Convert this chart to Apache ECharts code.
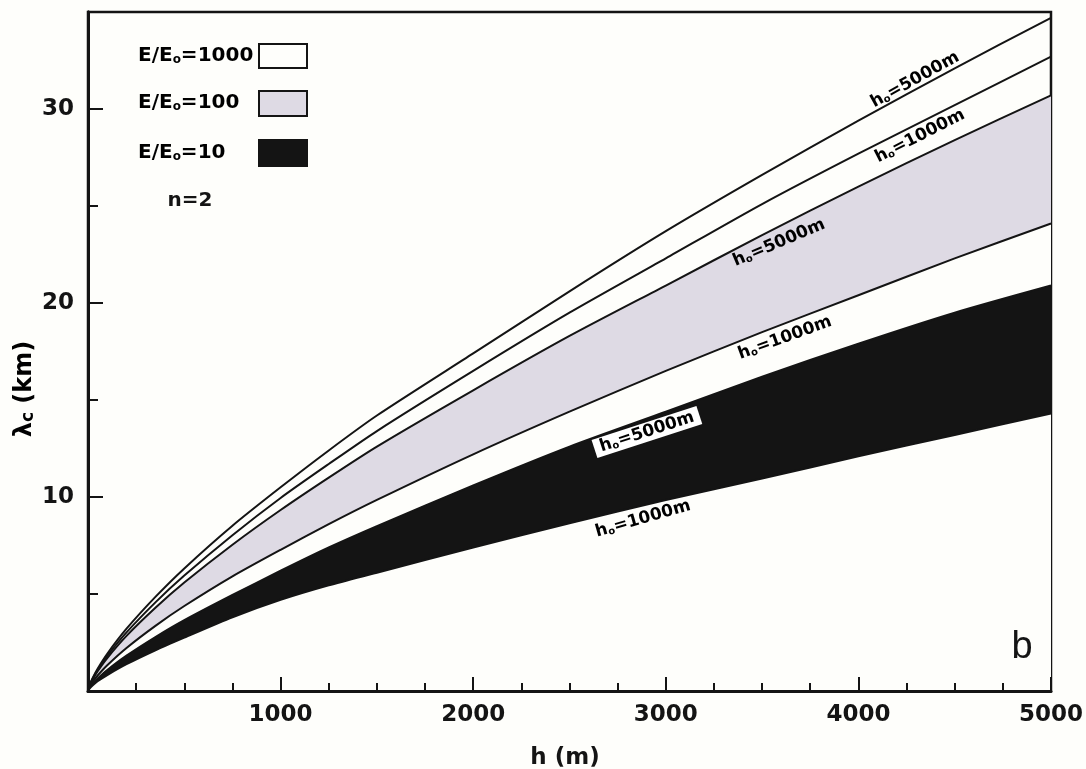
<!DOCTYPE html>
<html>
<head>
<meta charset="utf-8">
<script src="https://cdn.jsdelivr.net/npm/echarts@6/dist/echarts.min.js"></script>
<style>
  html, body { margin: 0; padding: 0; background: #fefefb; }
  #chart { width: 1086px; height: 769px; }
</style>
</head>
<body>
<div id="chart"></div>
<script>
// Altitude h (m) at which each curve is sampled
const heights = [0, 10, 25, 50, 100, 200, 350, 500, 750, 1000, 1250, 1500, 2000, 2500, 3000, 3500, 4000, 4500, 5000];

// Critical wavelength λc (km), n = 2
const e1000_h5000 = [0, 0.35, 0.69, 1.15, 1.92, 3.21, 4.85, 6.32, 8.52, 10.5, 12.4, 14.2, 17.4, 20.6, 23.7, 26.6, 29.4, 32.1, 34.7];
const e1000_h1000 = [0, 0.33, 0.65, 1.08, 1.81, 3.02, 4.57, 5.95, 8.03, 9.95, 11.7, 13.4, 16.5, 19.5, 22.3, 25.1, 27.7, 30.2, 32.7];
const e100_h5000  = [0, 0.31, 0.61, 1.02, 1.70, 2.84, 4.29, 5.59, 7.54, 9.33, 11.0, 12.6, 15.5, 18.3, 20.9, 23.5, 26.0, 28.4, 30.7];
const e100_h1000  = [0, 0.24, 0.48, 0.80, 1.33, 2.22, 3.36, 4.38, 5.91, 7.28, 8.6, 9.85, 12.2, 14.4, 16.5, 18.5, 20.4, 22.3, 24.1];
const e10_h5000   = [0, 0.19, 0.38, 0.64, 1.08, 1.82, 2.78, 3.65, 4.95, 6.2, 7.4, 8.5, 10.6, 12.6, 14.4, 16.2, 17.9, 19.5, 20.9];
const e10_h1000   = [0, 0.15, 0.3, 0.5, 0.82, 1.38, 2.1, 2.75, 3.8, 4.7, 5.45, 6.1, 7.4, 8.65, 9.85, 10.95, 12.1, 13.2, 14.3];

// Axis tick labels
const xTickLabels = [1000, 2000, 3000, 4000, 5000];
const yTickLabels = [10, 20, 30];

// Curve annotations: text, anchor (h, λc) and slope angle
const curveLabelText = ['5000m', '1000m', '5000m', '1000m', '5000m', '1000m'];
const curveLabelH    = [4294, 4320, 3588, 3619, 2902, 2882];
const curveLabelLam  = [31.5, 28.6, 23.1, 18.2, 13.35, 8.87];
const curveLabelDeg  = [29, 27, 23, 20, 18, 16];

// Legend entries
const legendText = ['1000', '100', '10'];

const INK = '#141414';
const GRAY = '#dedae4';
const PAPER = '#fefefb';
const FONT = 'DejaVu Sans';
const SMOOTH = 0.25;

const pairs = arr => heights.map((h, i) => [h, arr[i]]);

function curve(name, arr) {
  return {
    name, type: 'line', data: pairs(arr), symbol: 'none', smooth: SMOOTH, z: 6,
    lineStyle: { color: INK, width: 2 }, silent: true
  };
}
// Filled region under a curve; later fills paint over earlier ones, leaving bands
function fill(arr, color, z) {
  return {
    type: 'line', data: pairs(arr), symbol: 'none', smooth: SMOOTH, z,
    lineStyle: { opacity: 0, width: 0 }, areaStyle: { color, opacity: 1, origin: 'start' }, silent: true
  };
}

const chart = echarts.init(document.getElementById('chart'), null, { renderer: 'canvas' });

const tickFont = { fontFamily: FONT, fontWeight: 'bold', fontSize: 23, color: INK };

chart.setOption({
  backgroundColor: PAPER,
  animation: false,
  grid: { left: 88, right: 35, top: 12, bottom: 78, show: true, borderColor: INK, borderWidth: 2.5, backgroundColor: 'transparent' },
  xAxis: {
    type: 'value', min: 0, max: 5000, interval: 1000, z: 10,
    axisLine: { lineStyle: { color: INK, width: 3 } },
    axisTick: { inside: true, length: 14, lineStyle: { color: INK, width: 2 } },
    minorTick: { show: true, splitNumber: 4, length: 8, lineStyle: { color: INK, width: 2 } },
    splitLine: { show: false },
    axisLabel: Object.assign({ margin: 13, formatter: v => xTickLabels.includes(v) ? String(v) : '' }, tickFont)
  },
  yAxis: [
    {
      type: 'value', min: 0, max: 35, interval: 5, position: 'left', z: 10,
      axisLine: { show: true, lineStyle: { color: INK, width: 3 } },
      axisTick: { show: true, inside: true, length: 10, lineStyle: { color: INK, width: 2 } },
      splitLine: { show: false },
      axisLabel: { show: false }
    },
    {
      type: 'value', min: 0, max: 35, interval: 10, position: 'left', offset: 0, z: 10,
      axisLine: { show: true, lineStyle: { color: INK, width: 3 } },
      axisTick: { show: true, inside: true, length: 15, lineStyle: { color: INK, width: 2 } },
      splitLine: { show: false },
      axisLabel: Object.assign({ margin: 14, formatter: v => yTickLabels.includes(v) ? String(v) : '' }, tickFont)
    }
  ],
  series: [
    fill(e100_h5000, GRAY, 1),
    fill(e100_h1000, PAPER, 2),
    fill(e10_h5000, INK, 3),
    fill(e10_h1000, PAPER, 4),
    curve('E/Eo=1000, ho=5000m', e1000_h5000),
    curve('E/Eo=1000, ho=1000m', e1000_h1000),
    curve('E/Eo=100, ho=5000m', e100_h5000),
    curve('E/Eo=100, ho=1000m', e100_h1000),
    curve('E/Eo=10, ho=5000m', e10_h5000),
    curve('E/Eo=10, ho=1000m', e10_h1000)
  ]
});

// Text styles with a lowered small "o" subscript
const labelRich = {
  b: { fontFamily: FONT, fontWeight: 'bold', fontSize: 17, color: INK },
  s: { fontFamily: FONT, fontWeight: 'bold', fontSize: 10, color: INK, verticalAlign: 'bottom', lineHeight: 12 }
};
const legendRich = {
  b: { fontFamily: FONT, fontWeight: 'bold', fontSize: 20, color: INK },
  s: { fontFamily: FONT, fontWeight: 'bold', fontSize: 12, color: INK, verticalAlign: 'bottom', lineHeight: 14 }
};

const graphics = [];

curveLabelText.forEach((t, i) => {
  const p = chart.convertToPixel({ xAxisIndex: 0, yAxisIndex: 0 }, [curveLabelH[i], curveLabelLam[i]]);
  const style = {
    text: '{b|h}{s|o}{b|=' + t + '}', rich: labelRich, align: 'center', verticalAlign: 'middle'
  };
  if (i === 4) { style.backgroundColor = '#ffffff'; style.padding = [1, 6, 1, 6]; }
  graphics.push({ type: 'text', x: p[0], y: p[1], rotation: curveLabelDeg[i] * Math.PI / 180, z: 20, style });
});

// Legend
const legendRowY = [56, 103, 153];
const legendBoxY = [44, 91, 140];
const legendBoxH = [24, 25, 26];
const legendFill = [PAPER, GRAY, INK];
legendText.forEach((t, i) => {
  graphics.push({ type: 'text', x: 138, y: legendRowY[i], z: 20,
    style: { text: '{b|E/E}{s|o}{b|=' + t + '}', rich: legendRich, align: 'left', verticalAlign: 'middle' } });
  graphics.push({ type: 'rect', z: 20, shape: { x: 259, y: legendBoxY[i], width: 48, height: legendBoxH[i] },
    style: { fill: legendFill[i], stroke: INK, lineWidth: 2 } });
});
graphics.push({ type: 'text', x: 190, y: 201, z: 20,
  style: { text: 'n=2', font: 'bold 20px "DejaVu Sans"', fill: INK, align: 'center', verticalAlign: 'middle' } });

// Axis titles
graphics.push({ type: 'text', x: 565, y: 758, z: 20,
  style: { text: 'h (m)', font: 'bold 23px "DejaVu Sans"', fill: INK, align: 'center', verticalAlign: 'middle' } });
graphics.push({ type: 'text', x: 25, y: 389, z: 20, rotation: Math.PI / 2,
  style: {
    text: '{b|λ}{s|c}{b| (km)}', align: 'center', verticalAlign: 'middle',
    rich: {
      b: { fontFamily: FONT, fontWeight: 'bold', fontSize: 24, color: INK },
      s: { fontFamily: FONT, fontWeight: 'bold', fontSize: 17, color: INK, verticalAlign: 'bottom', lineHeight: 20 }
    }
  } });

// Panel letter
graphics.push({ type: 'text', x: 1022, y: 648, z: 20,
  style: { text: 'b', font: '38px "Liberation Sans"', fill: INK, align: 'center', verticalAlign: 'middle' } });

chart.setOption({ graphic: graphics });
</script>
</body>
</html>
